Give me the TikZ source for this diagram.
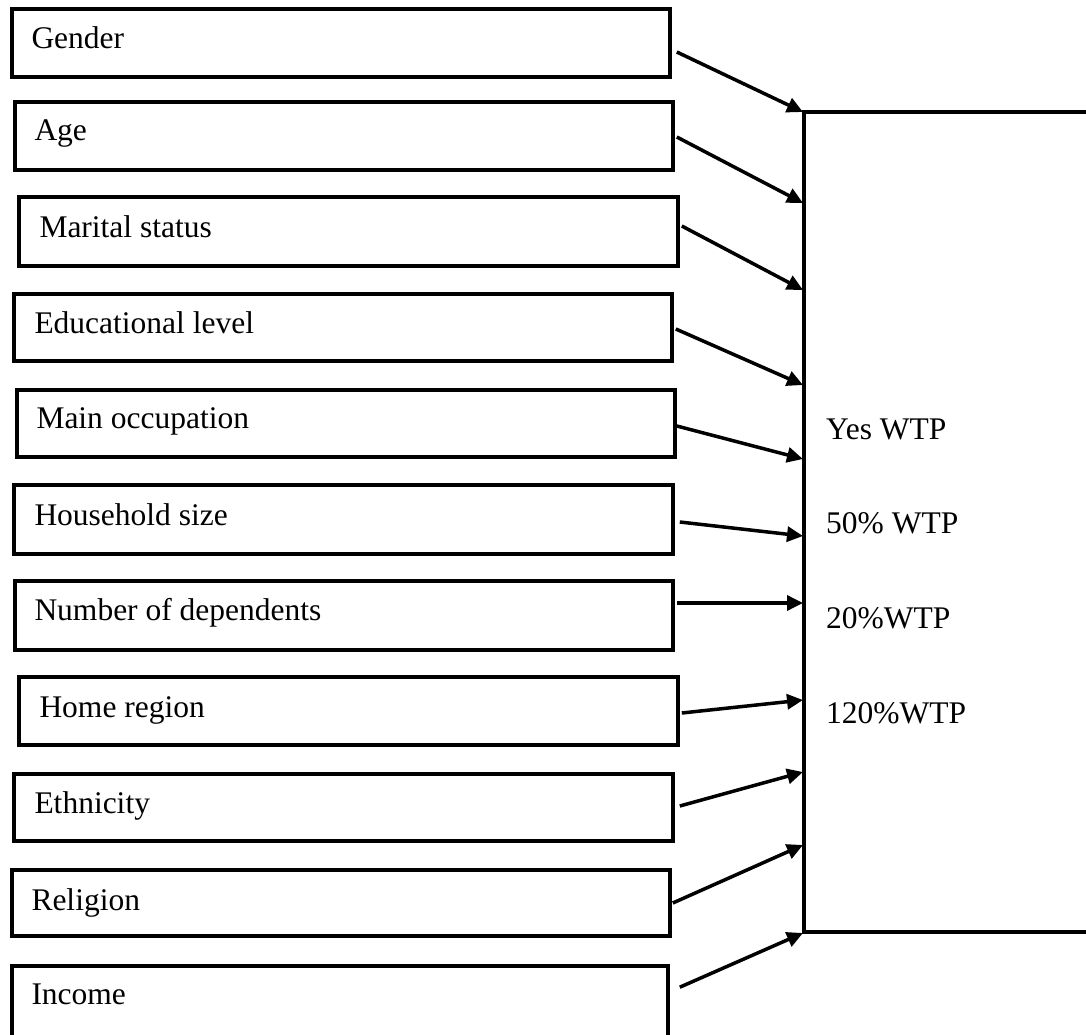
\documentclass[tikz,border=0pt]{standalone}
\usepackage{fontspec}
\setmainfont{Liberation Serif}
\usetikzlibrary{arrows.meta,calc}
\begin{document}
\begin{tikzpicture}[x=1pt,y=-1pt,
  fbx/.style={draw, line width=3.6pt, inner sep=0pt, outer sep=0pt, anchor=north west},
  lbl/.style={anchor=base west, inner sep=0pt, font=\fontsize{31.5}{36}\selectfont},
  arr/.style={line width=3.5pt, -{Triangle[length=16pt,width=15pt]}},
  frame/.style={line width=3.6pt}]
\useasboundingbox (0,0) rectangle (1086,1035);
\fill[white] (0,0) rectangle (1086,1035);
% input boxes
\node[fbx, minimum width=658.4pt, minimum height=68.4pt] (gender) at (11.8,8.8) {};
\node[fbx, minimum width=658.4pt, minimum height=68.4pt] (age) at (14.8,101.8) {};
\node[fbx, minimum width=659.4pt, minimum height=69.4pt] (marital) at (18.8,196.8) {};
\node[fbx, minimum width=658.4pt, minimum height=67.4pt] (educ) at (13.8,293.8) {};
\node[fbx, minimum width=658.4pt, minimum height=67.4pt] (occ) at (16.8,389.8) {};
\node[fbx, minimum width=659.4pt, minimum height=69.4pt] (house) at (13.8,484.8) {};
\node[fbx, minimum width=658.4pt, minimum height=69.4pt] (dep) at (14.8,580.8) {};
\node[fbx, minimum width=659.4pt, minimum height=68.4pt] (home) at (18.8,676.8) {};
\node[fbx, minimum width=659.4pt, minimum height=67.4pt] (eth) at (13.8,773.8) {};
\node[fbx, minimum width=658.4pt, minimum height=66.4pt] (rel) at (11.8,869.8) {};
\node[fbx, minimum width=656.4pt, minimum height=72pt] (inc) at (11.8,965.8) {};
% labels
\node[lbl] (tgender) at ($(gender.north west)+(19.5,40)$) {Gender};
\node[lbl] (tage) at ($(age.north west)+(19.5,38.5)$) {Age};
\node[lbl] (tmarital) at ($(marital.north west)+(20.5,41)$) {Marital status};
\node[lbl] (teduc) at ($(educ.north west)+(20.5,39.5)$) {Educational level};
\node[lbl] (tocc) at ($(occ.north west)+(19.5,38.5)$) {Main occupation};
\node[lbl] (thouse) at ($(house.north west)+(20.5,40.5)$) {Household size};
\node[lbl] (tdep) at ($(dep.north west)+(19.5,40)$) {Number of dependents};
\node[lbl] (thome) at ($(home.north west)+(20.5,40.5)$) {Home region};
\node[lbl] (teth) at ($(eth.north west)+(20.5,39.5)$) {Ethnicity};
\node[lbl] (trel) at ($(rel.north west)+(19.5,40.5)$) {Religion};
\node[lbl] (tinc) at ($(inc.north west)+(19.5,38.5)$) {Income};
% outcome box (cut off at the right edge)
\coordinate (wtl) at (1086,112);
\coordinate (wnw) at (804,112);
\coordinate (wsw) at (804,932);
\coordinate (wbl) at (1086,932);
\draw[frame] (wtl) -- (wnw) -- (wsw) -- (wbl);
\node[lbl] (yes) at (826,439) {Yes WTP};
\node[lbl] (fifty) at (826,533) {50\% WTP};
\node[lbl] (twenty) at (826,628) {20\%WTP};
\node[lbl] (onetwenty) at (826,723) {120\%WTP};
% arrow end points on the outcome box
\coordinate (e1) at (803,112);
\coordinate (e2) at (803,203);
\coordinate (e3) at (803,290);
\coordinate (e4) at (803,385);
\coordinate (e5) at (803,459);
\coordinate (e6) at (803,536);
\coordinate (e7) at (803,603);
\coordinate (e8) at (803,700);
\coordinate (e9) at (803,772);
\coordinate (e10) at (803,845);
\coordinate (e11) at (803,933);
% arrows
\draw[arr] ($(gender.east)+(6.6,9)$) -- (e1);
\draw[arr] ($(age.east)+(3.6,1)$) -- (e2);
\draw[arr] ($(marital.east)+(3.6,-5.5)$) -- (e3);
\draw[arr] ($(educ.east)+(3.6,1.5)$) -- (e4);
\draw[arr] ($(occ.east)+(1.6,2.5)$) -- (e5);
\draw[arr] ($(house.east)+(6.6,2.5)$) -- (e6);
\draw[arr] ($(dep.east)+(3.6,-12.5)$) -- (e7);
\draw[arr] ($(home.east)+(3.6,2)$) -- (e8);
\draw[arr] ($(eth.east)+(6.6,-1.5)$) -- (e9);
\draw[arr] ($(rel.east)+(2.6,0)$) -- (e10);
\draw[arr] ($(inc.east)+(11.6,-14.6)$) -- (e11);
\end{tikzpicture}
\end{document}
